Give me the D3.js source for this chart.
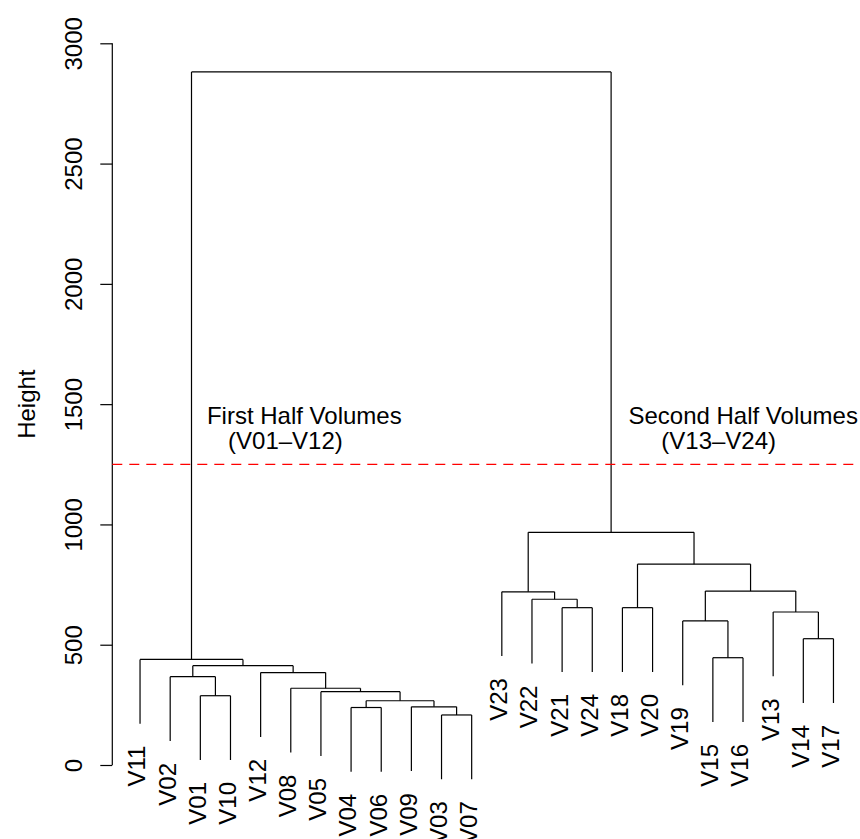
<!DOCTYPE html>
<html>
<head>
<meta charset="utf-8">
<script src="https://cdn.jsdelivr.net/npm/d3@7"></script>
<style>
  html, body { margin: 0; padding: 0; background: #fff; }
  svg text { font-family: "Liberation Sans", Arial, sans-serif; fill: #000; }
</style>
</head>
<body>
<div id="chart"></div>
<script>
// hclust-style dendrogram of 24 volumes, R plot look.

// leaf order as drawn, left to right
const leafLabels = ["V11","V02","V01","V10","V12","V08","V05","V04","V06","V09","V03","V07",
                    "V23","V22","V21","V24","V18","V20","V19","V15","V16","V13","V14","V17"];

// merge table, R style: negative = leaf (1-based in leafLabels), positive = earlier merge
const merges = [
  [-11, -12], [-8, -9], [-10, 1], [2, 3], [-3, -4], [-7, 4], [-6, 6], [-2, 5],
  [-5, 7], [8, 9], [-1, 10],
  [-20, -21], [-23, -24], [-19, 12], [-22, 13], [-15, -16], [-17, -18], [-14, 16],
  [-13, 18], [14, 15], [17, 20], [19, 21],
  [11, 22]
];
const mergeHeights = [208, 239, 242, 267, 288, 305, 319, 367, 384, 413, 439,
                      446, 525, 599, 636, 654, 654, 689, 720, 723, 835, 967,
                      2881];

const yTicks = [0, 500, 1000, 1500, 2000, 2500, 3000];
const cutHeight = 1250;
const hang = 0.1;

// group labels: [x in leaf units, height, text]
const groupNotes = [
  [3.22, 1417, "First Half Volumes"],
  [3.92, 1315, "(V01–V12)"],
  [17.2, 1417, "Second Half Volumes"],
  [18.29, 1315, "(V13–V24)"]
];

const W = 860, H = 839;
const n = leafLabels.length;
const svg = d3.select("#chart").append("svg")
  .attr("width", W).attr("height", H);
svg.append("rect").attr("width", W).attr("height", H).attr("fill", "#fff");

const x = d3.scaleLinear().domain([1 - 0.04 * (n - 1), n + 0.04 * (n - 1)]).range([112.3, 861.2]);
const y = d3.scaleLinear().domain([0, 3000]).range([765, 43.3]);

// positions of each merge (x = midpoint of children, as R does)
const mergeX = [];
function nodeX(id) { return id < 0 ? -id : mergeX[id - 1]; }
function nodeH(id) { return id < 0 ? null : mergeHeights[id - 1]; }
merges.forEach((m, i) => { mergeX[i] = (nodeX(m[0]) + nodeX(m[1])) / 2; });

const hangAmt = hang * (d3.max(mergeHeights) - d3.min(mergeHeights));

const g = svg.append("g")
  .attr("fill", "none").attr("stroke", "#000").attr("stroke-width", 1.2);

const leafBottom = {};
merges.forEach((m, i) => {
  const h = mergeHeights[i];
  const xs = m.map(nodeX);
  g.append("path").attr("d", `M${x(xs[0])},${y(h)}H${x(xs[1])}`);
  m.forEach((c, k) => {
    const bottom = c < 0 ? h - hangAmt : nodeH(c);
    if (c < 0) leafBottom[-c] = bottom;
    g.append("path").attr("d", `M${x(xs[k])},${y(h)}V${y(bottom)}`);
  });
});

// leaf labels, rotated
svg.append("g").selectAll("text")
  .data(leafLabels)
  .join("text")
  .attr("transform", (d, i) => `translate(${x(i + 1) - 3},${y(leafBottom[i + 1]) + 22}) rotate(-90)`)
  .attr("text-anchor", "end")
  .attr("dy", "0.35em")
  .attr("font-size", 24)
  .text(d => d);

// y axis
const axis = d3.axisLeft(y).tickValues(yTicks).tickFormat(d3.format("d"))
  .tickSize(12).tickSizeOuter(0);
const ag = svg.append("g").attr("transform", `translate(${x.range()[0]},0)`).call(axis);
ag.select(".domain").attr("stroke", "#000").attr("stroke-width", 1.2)
  .attr("d", `M0,${y(0)}V${y(3000)}`);
ag.selectAll(".tick line").attr("stroke", "#000").attr("stroke-width", 1.2);
ag.selectAll(".tick text")
  .attr("transform", "rotate(-90)")
  .attr("x", 0).attr("y", -39).attr("dy", "0.35em")
  .attr("text-anchor", "middle")
  .attr("font-size", 24)
  .attr("font-family", "Liberation Sans, Arial, sans-serif")
  .attr("fill", "#000");

svg.append("text")
  .attr("transform", `translate(27,${(y(0) + y(3000)) / 2}) rotate(-90)`)
  .attr("text-anchor", "middle").attr("dy", "0.35em")
  .attr("font-size", 24)
  .text("Height");

// cut line
svg.append("line")
  .attr("x1", x.range()[0]).attr("x2", W)
  .attr("y1", y(cutHeight)).attr("y2", y(cutHeight))
  .attr("stroke", "#ff0000").attr("stroke-width", 1.2)
  .attr("stroke-dasharray", "10,7");

svg.append("g").selectAll("text")
  .data(groupNotes)
  .join("text")
  .attr("x", d => x(d[0])).attr("y", d => y(d[1]))
  .attr("font-size", 24)
  .text(d => d[2]);
</script>
</body>
</html>
